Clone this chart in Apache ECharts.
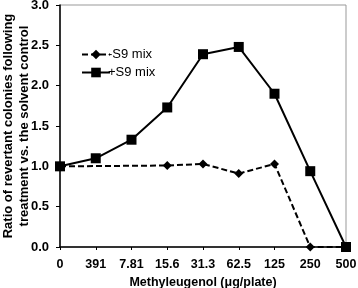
<!DOCTYPE html>
<html><head><meta charset="utf-8">
<script src="https://cdn.jsdelivr.net/npm/echarts@6/dist/echarts.min.js"></script>
<style>html,body{margin:0;padding:0;background:#fff}#c{width:358px;height:288px}</style>
</head><body><div id="c"></div>
<script>
var categories = ['0','391','7.81','15.6','31.3','62.5','125','250','500'];
var minusS9 = [1.0, null, null, 1.01, 1.03, 0.91, 1.03, 0.0, 0.0];
var plusS9 = [1.0, 1.10, 1.33, 1.73, 2.39, 2.48, 1.90, 0.94, 0.0];
var yTicks = [0, 0.5, 1.0, 1.5, 2.0, 2.5, 3.0];
var ff = 'Liberation Sans, Arial, sans-serif';
var chart = echarts.init(document.getElementById('c'));
chart.setOption({
  animation: false,
  grid: {left: 60, right: 12, top: 5, bottom: 41, show: true, borderColor: '#999', borderWidth: 1,
         containLabel: false, outerBoundsMode: 'none'},
  legend: {
    orient: 'vertical', left: 76, top: 43, itemWidth: 28, itemHeight: 12, itemGap: 5,
    textStyle: {fontFamily: ff, fontSize: 13, color: '#000', padding: [0,0,0,-7]},
    data: ['-S9 mix', '+S9 mix']
  },
  xAxis: {
    type: 'category', data: categories, boundaryGap: false,
    axisLine: {lineStyle: {color: '#000', width: 1.5}},
    axisTick: {show: true, alignWithLabel: true, length: 3, lineStyle: {color: '#000'}},
    axisLabel: {fontFamily: ff, fontSize: 12.5, fontWeight: 'bold', color: '#000', margin: 11, interval: 0},
    name: 'Methyleugenol (μg/plate)', nameLocation: 'middle', nameGap: 28,
    nameTextStyle: {fontFamily: ff, fontSize: 12.5, fontWeight: 'bold', color: '#000'}
  },
  yAxis: {
    type: 'value', min: 0, max: 3, interval: 0.5,
    splitLine: {show: false},
    axisLine: {show: true, lineStyle: {color: '#000', width: 1.5}},
    axisTick: {show: true, length: 4, lineStyle: {color: '#000'}},
    axisLabel: {fontFamily: ff, fontSize: 13, fontWeight: 'bold', color: '#000', margin: 11,
      formatter: function(v){ return yTicks.indexOf(v) >= 0 ? v.toFixed(1) : ''; }},
    name: 'Ratio of revertant colonies following\ntreatment vs. the solvent control',
    nameLocation: 'middle', nameGap: 28, nameMoveOverlap: false,
    nameTextStyle: {fontFamily: ff, fontSize: 13, fontWeight: 'bold', color: '#000', lineHeight: 16}
  },
  series: [
    {name: '-S9 mix', type: 'line', data: minusS9, connectNulls: true,
     symbol: 'diamond', symbolSize: 9, showAllSymbol: true,
     lineStyle: {color: '#000', width: 2, type: [6, 3]},
     itemStyle: {color: '#000', borderWidth: 0}},
    {name: '+S9 mix', type: 'line', data: plusS9,
     symbol: 'rect', symbolSize: 10, showAllSymbol: true,
     lineStyle: {color: '#000', width: 2},
     itemStyle: {color: '#000', borderWidth: 0}}
  ]
});
</script></body></html>
